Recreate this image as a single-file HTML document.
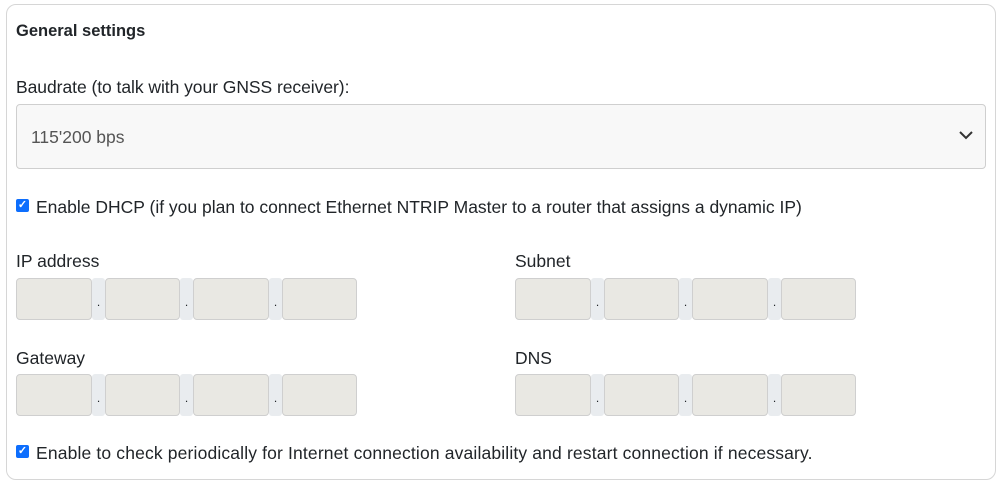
<!DOCTYPE html>
<html><head><style>
body{margin:0;width:1000px;height:483px;background:#fff;font-family:"Liberation Sans",Arial,sans-serif;color:#212529;position:relative;overflow:hidden}
.card{position:absolute;left:6px;top:4px;width:988px;height:474px;border:1px solid #d6d6d6;border-radius:10px}
.t{position:absolute;white-space:nowrap;font-size:17.5px;letter-spacing:0px}
.sel{position:absolute;left:16px;top:104px;width:968px;height:63px;border:1px solid #cfcfcf;border-radius:4px;background:#f8f8f8}
.cb{position:absolute;width:13px;height:13px;background:#0d6efd;border-radius:2px;color:#fff;font-size:11px;line-height:13px;text-align:center;font-weight:bold}
.box{position:absolute;height:42px;background:#e9e8e3;border:1px solid #cfcfcf;border-radius:4px;box-sizing:border-box}
.sep{position:absolute;height:42px;width:13px;background:#e9ecef;border-radius:3px;font-size:12px;text-align:center;line-height:48px}
</style></head><body>
<div class="card"></div>
<div class="t" style="left:16px;top:22px;font-size:16.5px;font-weight:bold">General settings</div>
<div class="t" style="left:16px;top:77px;letter-spacing:-0.05px">Baudrate (to talk with your GNSS receiver):</div>
<div class="sel"></div>
<div class="t" style="left:31px;top:127px;color:#555">115'200 bps</div>
<svg style="position:absolute;left:959px;top:130px" width="14" height="10"><path d="M1 2 L7 8 L13 2" fill="none" stroke="#333" stroke-width="2"/></svg>
<div class="cb" style="left:16px;top:199px">✓</div>
<div class="t" style="left:36px;top:197px">Enable DHCP (if you plan to connect Ethernet NTRIP Master to a router that assigns a dynamic IP)</div>
<div class="t" style="left:16px;top:251px">IP address</div>
<div class="t" style="left:515px;top:251px">Subnet</div>
<div class="t" style="left:16px;top:348px">Gateway</div>
<div class="t" style="left:515px;top:348px">DNS</div>
<div id="g"></div>
<div class="cb" style="left:16px;top:445px">✓</div>
<div class="t" style="left:36px;top:443px;letter-spacing:0.15px">Enable to check periodically for Internet connection availability and restart connection if necessary.</div>
<script>
var g=document.getElementById('g'),h='';
[[16,278],[515,278],[16,374],[515,374]].forEach(function(p){
 var x=p[0],y=p[1];
 [[0,76],[89,75],[177,76],[266,75]].forEach(function(b,i){
  h+='<div class="box" style="left:'+(x+b[0])+'px;top:'+y+'px;width:'+b[1]+'px"></div>';
  if(i<3)h+='<div class="sep" style="left:'+(x+b[0]+b[1])+'px;top:'+y+'px">.</div>';
 });
});
g.innerHTML=h;
</script>
</body></html>
